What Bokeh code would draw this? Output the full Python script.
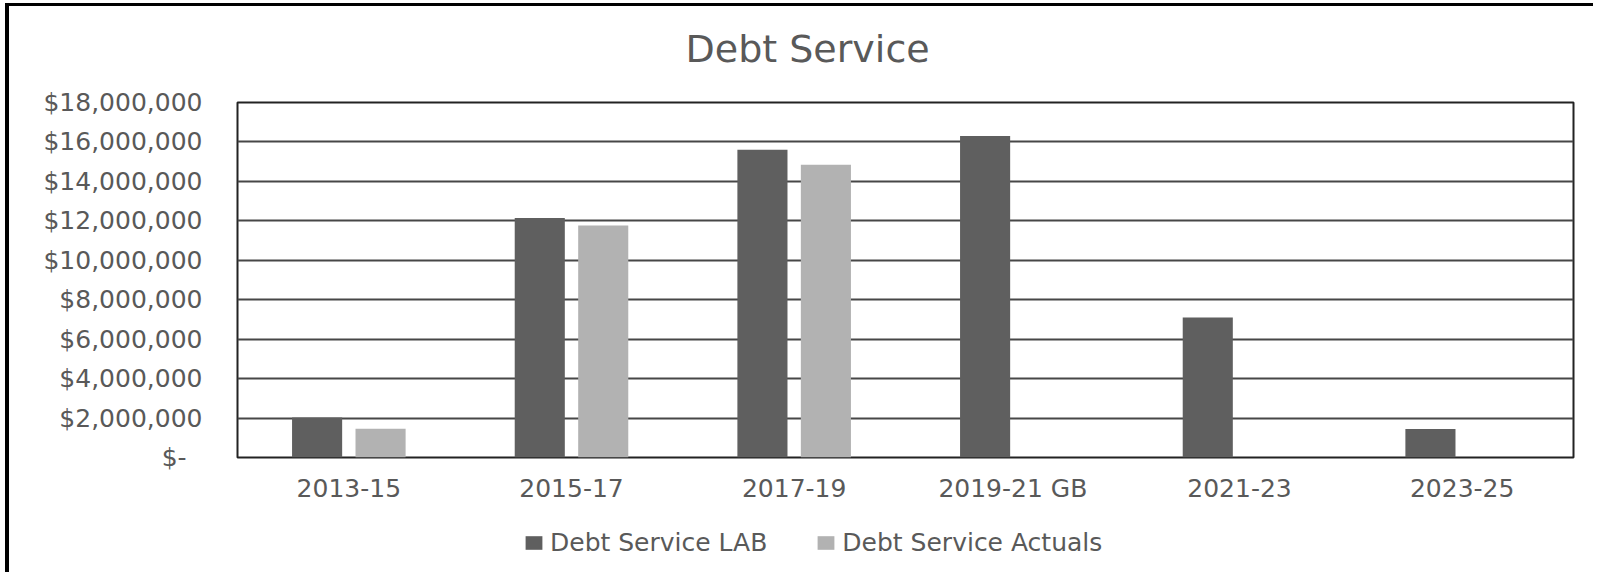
import numpy as np
from bokeh.plotting import figure
from bokeh.layouts import column
from bokeh.models import (FactorRange, Range1d, SingleIntervalTicker, CustomJSTickFormatter,
                          Legend, LegendItem, ColumnDataSource)
from bokeh.transform import dodge
from bokeh.embed import file_html
from bokeh.resources import INLINE

categories = ["2013-15", "2015-17", "2017-19", "2019-21  GB", "2021-23", "2023-25"]
debt_service_lab = [2.03e6, 12.15e6, 15.6e6, 16.3e6, 7.1e6, 1.45e6]
debt_service_actuals = [1.46e6, 11.76e6, 14.84e6, np.nan, np.nan, np.nan]
series_names = ["Debt Service LAB", "Debt Service Actuals"]
series_colors = ["#5f5f5f", "#b2b2b2"]
chart_title = "Debt Service"
y_ticks_step = 2_000_000
y_max = 18_000_000

FONT = "DejaVu Sans"
TXT = "#595959"


def bare_strip(height, top=0):
    f = figure(width=1584, height=height, output_backend="svg", toolbar_location=None,
               x_range=Range1d(0, 1), y_range=Range1d(0, 1),
               x_axis_location=None, y_axis_location=None,
               min_border_left=0, min_border_right=0, min_border_top=top, min_border_bottom=0)
    f.xgrid.grid_line_color = None
    f.ygrid.grid_line_color = None
    f.outline_line_color = None
    return f


# title strip
p0 = bare_strip(66, top=64)
p0.title.text = chart_title
p0.title.align = "left"
p0.title.offset = 448
p0.title.standoff = 0
p0.title.text_font = FONT
p0.title.text_font_size = "38px"
p0.title.text_font_style = "normal"
p0.title.text_color = TXT

# main chart
src = ColumnDataSource(dict(cat=categories, lab=debt_service_lab, act=debt_service_actuals))

p = figure(width=1584, height=434, x_range=FactorRange(*categories), y_range=Range1d(0, y_max),
           output_backend="svg", toolbar_location=None,
           min_border_left=228, min_border_right=20, min_border_top=30, min_border_bottom=49)

r1 = p.vbar(x=dodge("cat", -0.1425, range=p.x_range), top="lab", width=0.225, source=src,
            fill_color=series_colors[0], line_color=None)
r2 = p.vbar(x=dodge("cat", 0.1425, range=p.x_range), top="act", width=0.225, source=src,
            fill_color=series_colors[1], line_color=None)

p.outline_line_color = "#222222"
p.outline_line_width = 2

p.xgrid.grid_line_color = None
p.ygrid.grid_line_color = "#474747"
p.ygrid.grid_line_width = 2
p.yaxis.ticker = SingleIntervalTicker(interval=y_ticks_step, num_minor_ticks=0)
p.yaxis.formatter = CustomJSTickFormatter(
    code="return tick == 0 ? '$-\\u00a0\\u00a0' : '$' + Math.round(tick).toLocaleString('en-US');")

for ax in (p.xaxis[0], p.yaxis[0]):
    ax.axis_line_color = None
    ax.major_tick_line_color = None
    ax.minor_tick_line_color = None
    ax.major_tick_out = 0
    ax.major_tick_in = 0
    ax.major_label_text_font = FONT
    ax.major_label_text_font_size = "25px"
    ax.major_label_text_color = TXT

p.yaxis.major_label_standoff = 35
p.xaxis.major_label_standoff = 16

# legend strip below the chart
p2 = bare_strip(66)
d1 = p2.vbar(x=[0], top=[0], width=0, fill_color=series_colors[0], line_color=None)
d2 = p2.vbar(x=[0], top=[0], width=0, fill_color=series_colors[1], line_color=None)

legend = Legend(items=[LegendItem(label=series_names[0], renderers=[d1]),
                       LegendItem(label=series_names[1], renderers=[d2])],
                orientation="horizontal", location=(286, 15),
                glyph_width=21, glyph_height=17, label_standoff=6, spacing=48,
                padding=0, margin=0, border_line_alpha=0, background_fill_alpha=0,
                label_text_font=FONT, label_text_font_size="25px", label_text_color=TXT)
p2.add_layout(legend, "center")

layout = column(p0, p, p2, spacing=0,
                styles={"border-left": "4px solid #000", "border-top": "3px solid #000",
                        "margin-left": "5px", "margin-top": "3px"})

open("out.html", "w").write(file_html(layout, INLINE))
